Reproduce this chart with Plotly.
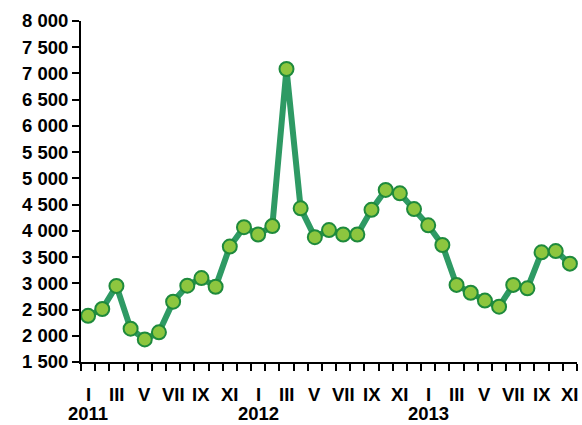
import plotly.graph_objects as go

months = ["I", "II", "III", "IV", "V", "VI", "VII", "VIII", "IX", "X", "XI", "XII"]
years = ["2011", "2012", "2013"]
values = [
    2380, 2510, 2950, 2135, 1930, 2065, 2650, 2955, 3100, 2935, 3700, 4070,
    3930, 4090, 7085, 4430, 3880, 4015, 3930, 3930, 4400, 4780, 4715, 4415,
    4105, 3730, 2970, 2820, 2670, 2555, 2970, 2905, 3590, 3615, 3375,
]
labeled_months = ["I", "III", "V", "VII", "IX", "XI"]

n = len(values)
x = list(range(n))
month_of = [months[i % 12] for i in x]

fig = go.Figure()
fig.add_trace(go.Scatter(
    x=x, y=values, mode="lines+markers",
    line=dict(color="#2E9A64", width=6),
    marker=dict(size=14, color="#8DC63F", line=dict(color="#1E8A3C", width=2)),
    hoverinfo="skip", showlegend=False, cliponaxis=False,
))

font = dict(family="Liberation Sans, Arial, sans-serif", size=18.5, color="black", weight="bold")

annotations = []
for i in x:
    if month_of[i] in labeled_months:
        annotations.append(dict(x=i, y=0, xref="x", yref="paper", yshift=-20, text=month_of[i],
                                showarrow=False, yanchor="top", xanchor="center", font=font))
for k, yr in enumerate(years):
    annotations.append(dict(x=12 * k, y=0, xref="x", yref="paper", yshift=-40, text=yr,
                            showarrow=False, yanchor="top", xanchor="center", font=font,
                            borderpad=0))

fig.update_layout(
    width=582, height=425,
    margin=dict(l=81, r=5, t=21, b=63, autoexpand=False),
    plot_bgcolor="white", paper_bgcolor="white",
    separators=", ",
    xaxis=dict(range=[-0.5, n - 0.5], tickmode="linear", tick0=-0.5, dtick=1,
               ticks="outside", ticklen=7, tickwidth=2, tickcolor="black",
               showticklabels=False, showline=True, linecolor="black", linewidth=2,
               showgrid=False, zeroline=False, automargin=False),
    yaxis=dict(range=[1500, 8000], tickmode="linear", tick0=1500, dtick=500,
               tickformat=",d", ticks="outside", ticklen=7, tickwidth=2, tickcolor="black",
               showline=True, linecolor="black", linewidth=2, showgrid=False,
               zeroline=False, tickfont=font, automargin=False),
    annotations=annotations,
)

fig.write_html("out.html", config={"displayModeBar": False},
               post_script="document.body.style.margin='0';document.body.style.overflow='hidden';")
